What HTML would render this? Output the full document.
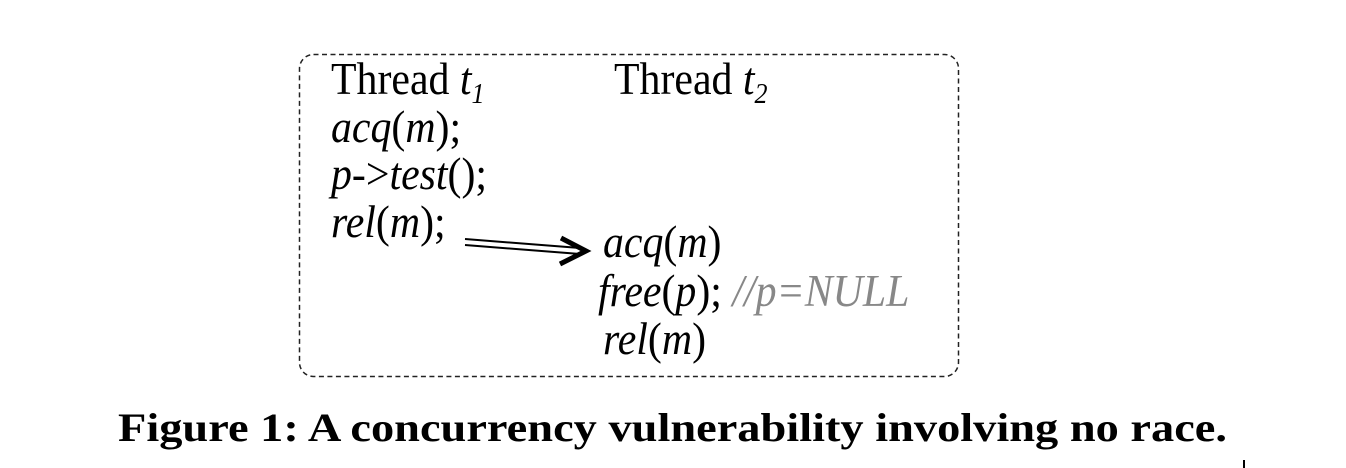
<!DOCTYPE html>
<html><head><meta charset="utf-8"><style>
html,body{margin:0;padding:0;background:#fff;width:1346px;height:468px;overflow:hidden}
svg text{font-family:"Liberation Serif",serif}
</style></head><body>
<svg width="1346" height="468" viewBox="0 0 1346 468" xmlns="http://www.w3.org/2000/svg">
<rect x="299.5" y="54.5" width="659" height="322" rx="14" fill="none" stroke="#222" stroke-width="1.5" stroke-dasharray="5,3.5"/>
<g font-size="45" fill="#000">
<g transform="translate(331,94) scale(0.93,1)"><text x="0" y="0">Thread <tspan font-style="italic">t</tspan><tspan font-style="italic" font-size="28" dy="9">1</tspan></text></g>
<g transform="translate(614,94) scale(0.93,1)"><text x="0" y="0">Thread <tspan font-style="italic">t</tspan><tspan font-style="italic" font-size="28" dy="9">2</tspan></text></g>
<g transform="translate(331,142) scale(0.93,1)"><text x="0" y="0" font-style="italic">acq<tspan font-style="normal">(</tspan>m<tspan font-style="normal">);</tspan></text></g>
<g transform="translate(331,189) scale(0.93,1)"><text x="0" y="0" font-style="italic">p<tspan font-style="normal">-&gt;</tspan>test<tspan font-style="normal">();</tspan></text></g>
<g transform="translate(331,237) scale(0.93,1)"><text x="0" y="0" font-style="italic">rel<tspan font-style="normal">(</tspan>m<tspan font-style="normal">);</tspan></text></g>
<g transform="translate(603,257) scale(0.93,1)"><text x="0" y="0" font-style="italic">acq<tspan font-style="normal">(</tspan>m<tspan font-style="normal">)</tspan></text></g>
<g transform="translate(598,306) scale(0.93,1)"><text x="0" y="0" font-style="italic">free<tspan font-style="normal">(</tspan>p<tspan font-style="normal">); </tspan><tspan fill="#888">//p=NULL</tspan></text></g>
<g transform="translate(603,354) scale(0.93,1)"><text x="0" y="0" font-style="italic">rel<tspan font-style="normal">(</tspan>m<tspan font-style="normal">)</tspan></text></g>
</g>
<g stroke="#000" fill="none">
<line x1="465" y1="239" x2="580" y2="248" stroke-width="2"/>
<line x1="465" y1="245" x2="580" y2="254" stroke-width="2"/>
<polyline points="561,238 586,251 560,264" stroke-width="5" stroke-linejoin="miter"/>
</g>
<text x="118" y="441" font-size="40" font-weight="bold" textLength="1109" lengthAdjust="spacingAndGlyphs">Figure 1: A concurrency vulnerability involving no race.</text>
<rect x="1243" y="460" width="2" height="8" fill="#000"/>
</svg>
</body></html>
